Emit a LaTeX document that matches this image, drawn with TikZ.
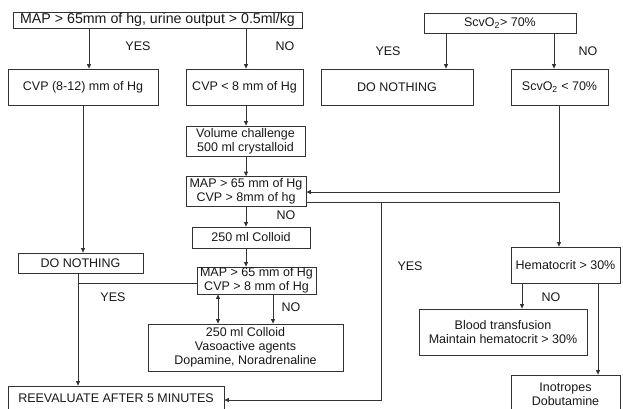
\documentclass[tikz,border=0pt]{standalone}
\usepackage{fontspec}
\setmainfont{Liberation Sans}
\usetikzlibrary{arrows.meta}
\newcommand{\dgfs}{\fontsize{12.5}{14}\selectfont}
\newcommand{\dgfsL}{\fontsize{14.2}{16}\selectfont}
\begin{document}
\begin{tikzpicture}[x=1pt,y=-1pt,
  box/.style={draw=black!80, line width=0.8pt, inner sep=0pt, align=center, font=\dgfs, text=black!90},
  lbl/.style={font=\dgfs, text=black!90, inner sep=0pt},
  arr/.style={draw=black!80, line width=0.8pt, -{Triangle[length=4.5pt,width=4pt]}},
  dbl/.style={draw=black!80, line width=0.8pt, {Triangle[length=4.5pt,width=4pt]}-{Triangle[length=4.5pt,width=4pt]}},
  ln/.style={draw=black!80, line width=0.8pt}]
\useasboundingbox (0,0) rectangle (623,408);
\fill[white] (0,0) rectangle (623,408);
\clip (0,0) rectangle (623,408);
% boxes
\node[box, font=\dgfsL, minimum width=289pt, minimum height=16pt] (top) at (157.5,20) {MAP > 65mm of hg, urine output > 0.5ml/kg};
\node[box, minimum width=150pt, minimum height=36pt] (cvp812) at (83,87) {CVP (8-12) mm of Hg};
\node[box, minimum width=117pt, minimum height=36pt] (cvpl8) at (244.5,87) {CVP < 8 mm of Hg};
\node[box, minimum width=119pt, minimum height=30pt] (vol) at (245.5,141) {Volume challenge\\500 ml crystalloid};
\node[box, minimum width=120pt, minimum height=30pt] (map1) at (246,191.5) {MAP > 65 mm of Hg\\CVP > 8mm of hg};
\node[box, minimum width=118pt, minimum height=21pt] (colloid1) at (251,237.5) {250 ml Colloid};
\node[box, minimum width=119pt, minimum height=27pt] (map2) at (256.5,280.5) {MAP > 65 mm of Hg\\CVP > 8 mm of Hg};
\node[box, minimum width=195pt, minimum height=47pt] (vaso) at (245.5,347.5) {250 ml Colloid\\Vasoactive agents\\Dopamine, Noradrenaline};
\node[box, minimum width=125pt, minimum height=20pt] (dnL) at (80.5,263) {DO NOTHING};
\node[box, minimum width=216pt, minimum height=24pt] (reeval) at (116,398) {REEVALUATE AFTER 5 MINUTES};
\node[box, minimum width=152pt, minimum height=20pt] (scvtop) at (500,23) {ScvO\textsubscript{2}> 70\%};
\node[box, minimum width=152pt, minimum height=36pt] (dnR) at (397,87) {DO NOTHING};
\node[box, minimum width=97pt, minimum height=36pt] (scvlow) at (559.5,87) {ScvO\textsubscript{2} < 70\%};
\node[box, minimum width=109pt, minimum height=36pt] (hemat) at (565.5,265) {Hematocrit > 30\%};
\node[box, minimum width=168pt, minimum height=46pt] (blood) at (503,332) {Blood transfusion\\Maintain hematocrit > 30\%};
\node[box, minimum width=109pt, minimum height=38pt] (inot) at (565.5,394) {Inotropes\\Dobutamine};
% labels
\node[lbl] (l1) at (138,46) {YES};
\node[lbl] (l2) at (285,46) {NO};
\node[lbl] (l3) at (388,51) {YES};
\node[lbl] (l4) at (588,51) {NO};
\node[lbl] (l5) at (286,215) {NO};
\node[lbl] (l6) at (113,297) {YES};
\node[lbl] (l7) at (291,307) {NO};
\node[lbl] (l8) at (410,266) {YES};
\node[lbl] (l9) at (551,297) {NO};
% helper coordinates
\coordinate (cA) at (89,0);
\coordinate (cB) at (246,0);
\coordinate (cC) at (83,0);
\coordinate (cD) at (78,0);
\coordinate (cE) at (218,0);
\coordinate (cF) at (273,0);
\coordinate (cG) at (446,0);
\coordinate (cH) at (554,0);
\coordinate (cI) at (559,0);
\coordinate (cJ) at (381,0);
\coordinate (cK) at (522,0);
\coordinate (cL) at (598,0);
\coordinate (yU) at (0,192);
\coordinate (yL) at (0,202);
\coordinate (yM) at (0,283);
\coordinate (yR) at (0,400);
% connectors
\draw[arr] (cA |- top.south) -- (cA |- cvp812.north);
\draw[arr] (cB |- top.south) -- (cB |- cvpl8.north);
\draw[arr] (cB |- cvpl8.south) -- (cB |- vol.north);
\draw[arr] (cB |- vol.south) -- (cB |- map1.north);
\draw[arr] (cB |- map1.south) -- (cB |- colloid1.north);
\draw[arr] (cB |- colloid1.south) -- (cB |- map2.north);
\draw[arr] (cI |- scvlow.south) -- (cI |- yU) -- (map1.east |- yU);
\draw[arr] (map1.east |- yL) -- (cI |- yL) -- (cI |- hemat.north);
\draw[arr] (cJ |- yL) -- (cJ |- yR) -- (reeval.east |- yR);
\draw[arr] (cC |- cvp812.south) -- (cC |- dnL.north);
\draw[arr] (cD |- dnL.south) -- (cD |- reeval.north);
\draw[ln] (map2.west |- yM) -- (cD |- yM);
\draw[dbl] (cE |- map2.south) -- (cE |- vaso.north);
\draw[arr] (cF |- map2.south) -- (cF |- vaso.north);
\draw[arr] (cG |- scvtop.south) -- (cG |- dnR.north);
\draw[arr] (cH |- scvtop.south) -- (cH |- scvlow.north);
\draw[arr] (cK |- hemat.south) -- (cK |- blood.north);
\draw[arr] (cL |- hemat.south) -- (cL |- inot.north);
\end{tikzpicture}
\end{document}
